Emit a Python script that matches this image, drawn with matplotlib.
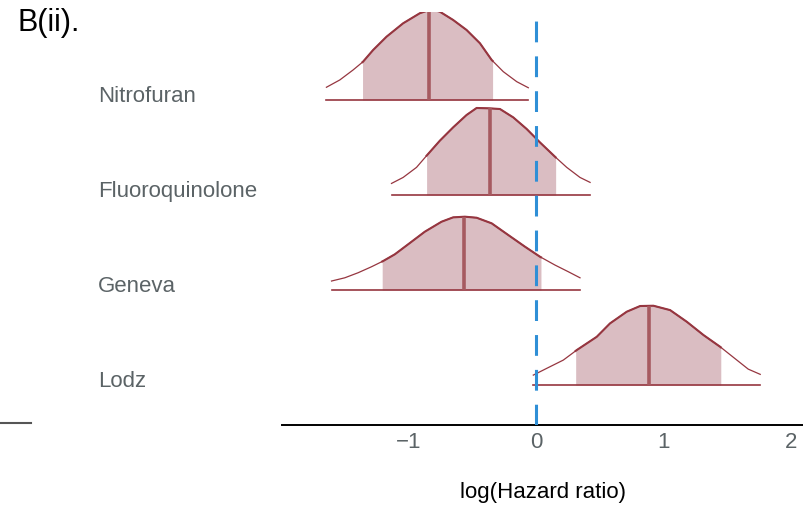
import numpy as np
import matplotlib.pyplot as plt
from matplotlib.lines import Line2D
from matplotlib.transforms import blended_transform_factory

plt.rcParams['font.family'] = ['Liberation Sans', 'DejaVu Sans']

# posterior densities of log(HR), one curve per comparison (top to bottom)
groups = ['Nitrofuran', 'Fluoroquinolone', 'Geneva', 'Lodz']

nitro_x = [-1.642, -1.537, -1.433, -1.355, -1.276, -1.171, -1.041, -0.910, -0.818,
           -0.753, -0.649, -0.544, -0.439, -0.347, -0.256, -0.151, -0.060]
nitro_d = [0.134, 0.211, 0.316, 0.403, 0.526, 0.666, 0.807, 0.913, 0.955,
           0.929, 0.842, 0.737, 0.597, 0.421, 0.298, 0.193, 0.129]

fluoro_x = [-1.132, -1.041, -0.936, -0.857, -0.753, -0.649, -0.544, -0.465, -0.361,
            -0.282, -0.178, -0.073, 0.031, 0.149, 0.241, 0.345, 0.424]
fluoro_d = [0.122, 0.185, 0.291, 0.414, 0.572, 0.712, 0.842, 0.916, 0.912,
            0.905, 0.817, 0.695, 0.554, 0.403, 0.291, 0.185, 0.133]

geneva_x = [-1.602, -1.498, -1.394, -1.289, -1.198, -1.106, -1.002, -0.871, -0.740, -0.649,
            -0.557, -0.465, -0.347, -0.217, -0.086, 0.031, 0.149, 0.253, 0.345]
geneva_d = [0.095, 0.129, 0.182, 0.245, 0.305, 0.376, 0.481, 0.614, 0.719, 0.765,
            0.772, 0.761, 0.702, 0.579, 0.456, 0.351, 0.263, 0.193, 0.129]

lodz_x = [-0.021, 0.084, 0.214, 0.319, 0.476, 0.580, 0.711, 0.816,
          0.920, 1.051, 1.182, 1.313, 1.443, 1.574, 1.663, 1.757]
lodz_d = [0.105, 0.176, 0.263, 0.368, 0.508, 0.649, 0.772, 0.832,
          0.835, 0.789, 0.666, 0.526, 0.403, 0.263, 0.168, 0.113]

# 80% interval bounds and medians
lower = [-1.359, -0.857, -1.205, 0.311]
upper = [-0.340, 0.154, 0.039, 1.448]
median = [-0.839, -0.358, -0.567, 0.884]

xs = [nitro_x, fluoro_x, geneva_x, lodz_x]
ds = [nitro_d, fluoro_d, geneva_d, lodz_d]

fill_col = '#DABDC2'
line_col = '#963640'
med_col = '#A65A60'
grey_txt = '#5B6366'

fig = plt.figure(figsize=(8.04, 5.05), dpi=100)
ax = fig.add_axes([282 / 804, 80 / 505, 522 / 804, 413 / 505])

n = len(groups)
for i, g in enumerate(groups):
    base = n - 1 - i
    x = np.array(xs[i])
    d = np.array(ds[i])

    # shaded interval under the curve
    inside = (x > lower[i]) & (x < upper[i])
    fx = np.concatenate([[lower[i]], x[inside], [upper[i]]])
    fd = np.interp(fx, x, d)
    ax.fill_between(fx, base, base + fd, color=fill_col, lw=0, zorder=2)

    ax.plot(x, base + d, color=line_col, lw=0.9, zorder=3)
    ax.plot(fx, base + fd, color=line_col, lw=1.5, zorder=3)
    ax.plot([x[0], x[-1]], [base, base], color=line_col, lw=1.2, zorder=3)

    m = median[i]
    ax.plot([m, m], [base, base + np.interp(m, x, d)], color=med_col, lw=2.6,
            zorder=4, solid_capstyle='butt')

ax.axvline(0, color='#2F8FD6', lw=2.2, dashes=(6.8, 4.6), zorder=5)

ax.set_xlim(-1.99, 2.1)
ax.set_ylim(-0.42, 3.926)

for s in ['left', 'right', 'top']:
    ax.spines[s].set_visible(False)
ax.spines['bottom'].set_linewidth(1.4)
ax.spines['bottom'].set_color('black')

ax.set_yticks([])
ax.set_xticks([-1, 0, 1, 2])
ax.set_xticklabels(['\u22121', '0', '1', '2'])
ax.tick_params(axis='x', length=0, pad=5, labelsize=16, labelcolor=grey_txt)
ax.set_xlabel('log(Hazard ratio)', fontsize=16, color='black', labelpad=21)

# row labels sit in the left margin
trans = blended_transform_factory(fig.transFigure, ax.transData)
for i, g in enumerate(groups):
    base = n - 1 - i
    ax.text(98 / 804, base + 0.035, g, transform=trans, ha='left', va='center',
            fontsize=16, color=grey_txt, clip_on=False)

fig.text(18 / 804, 1 - 23 / 505, 'B(ii).', fontsize=22, color='black',
         ha='left', va='center')

# stray axis stub at the far left
fig.add_artist(Line2D([0, 31 / 804], [1 - 423 / 505, 1 - 423 / 505],
                      color='#555555', lw=1.5))

fig.savefig('out.png', dpi=100)
